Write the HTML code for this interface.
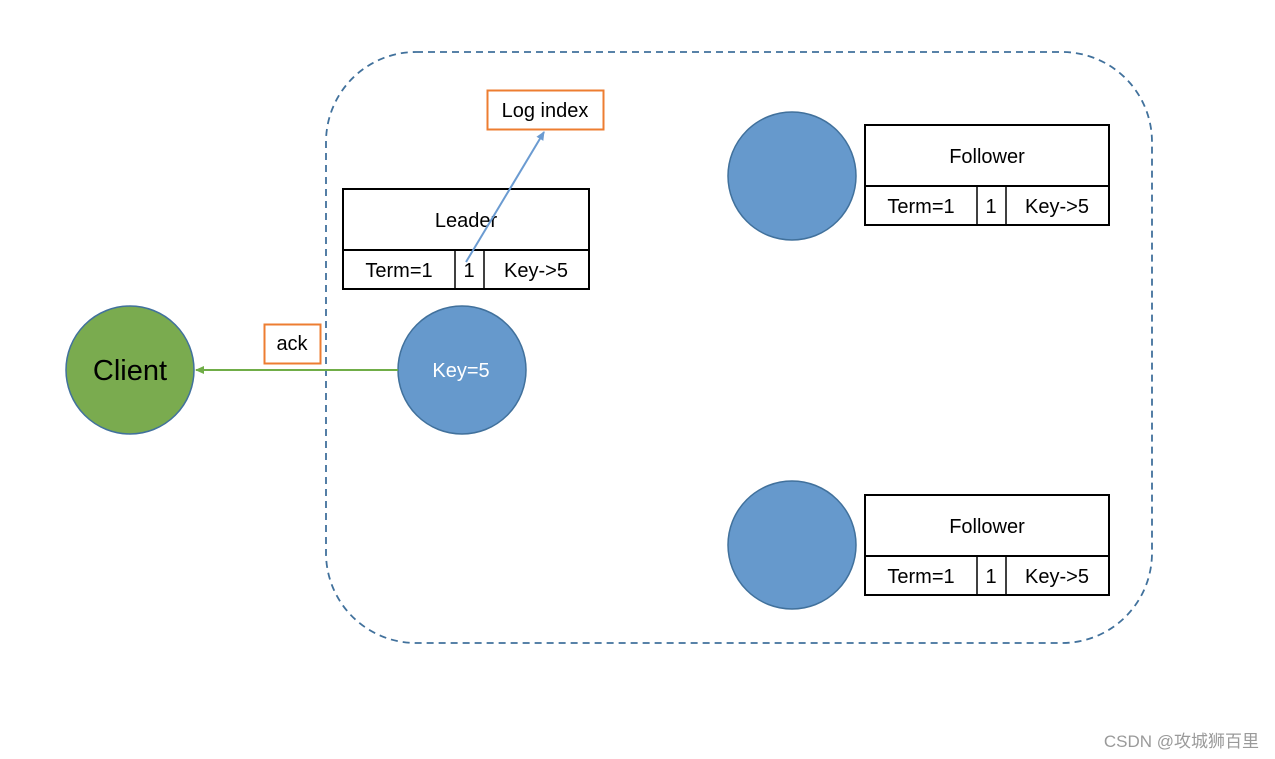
<!DOCTYPE html>
<html><head><meta charset="utf-8"><style>
html,body{margin:0;padding:0;background:#fff;}
svg{display:block;}
text{font-family:"Liberation Sans","Noto Sans CJK SC",sans-serif;}
</style></head><body>
<svg width="1275" height="759" viewBox="0 0 1275 759" xmlns="http://www.w3.org/2000/svg">
<defs>
<marker id="ab" markerWidth="10" markerHeight="10" refX="8" refY="5" orient="auto" markerUnits="userSpaceOnUse"><path d="M0,1 L9,5 L0,9 z" fill="#6b9bd1"/></marker>
<marker id="ag" markerWidth="10" markerHeight="10" refX="8" refY="5" orient="auto" markerUnits="userSpaceOnUse"><path d="M0,1 L9,5 L0,9 z" fill="#70ad47"/></marker>
</defs>
<rect x="326" y="52" width="826" height="591" rx="90" ry="90" fill="none" stroke="#41719c" stroke-width="1.8" stroke-dasharray="7,5"/>
<rect x="487.5" y="90.5" width="116" height="39" fill="#fff" stroke="#ed7d31" stroke-width="2"/>
<text x="545" y="117" font-size="20" text-anchor="middle" fill="#000">Log index</text>
<rect x="343" y="189" width="246" height="100" fill="#fff" stroke="#000" stroke-width="2"/>
<line x1="343" y1="250" x2="589" y2="250" stroke="#000" stroke-width="2"/>
<line x1="455" y1="250" x2="455" y2="289" stroke="#000" stroke-width="1.5"/>
<line x1="484" y1="250" x2="484" y2="289" stroke="#000" stroke-width="1.5"/>
<text x="466" y="227" font-size="20" text-anchor="middle">Leader</text>
<text x="399" y="277" font-size="20" text-anchor="middle">Term=1</text>
<text x="469" y="277" font-size="20" text-anchor="middle">1</text>
<text x="536" y="277" font-size="20" text-anchor="middle">Key-&gt;5</text>
<line x1="466" y1="262" x2="544" y2="132" stroke="#6b9bd1" stroke-width="2" marker-end="url(#ab)"/>
<circle cx="130" cy="370" r="64" fill="#7aab4f" stroke="#41719c" stroke-width="1.5"/>
<text x="130" y="380" font-size="29" text-anchor="middle" fill="#000">Client</text>
<circle cx="462" cy="370" r="64" fill="#6699cc" stroke="#41719c" stroke-width="1.5"/>
<text x="461" y="377" font-size="20" text-anchor="middle" fill="#fff">Key=5</text>
<line x1="398" y1="370" x2="196" y2="370" stroke="#70ad47" stroke-width="2" marker-end="url(#ag)"/>
<rect x="264.5" y="324.5" width="56" height="39" fill="#fff" stroke="#ed7d31" stroke-width="2"/>
<text x="292" y="350" font-size="20" text-anchor="middle">ack</text>
<circle cx="792" cy="176" r="64" fill="#6699cc" stroke="#41719c" stroke-width="1.5"/>
<circle cx="792" cy="545" r="64" fill="#6699cc" stroke="#41719c" stroke-width="1.5"/>
<g>
<rect x="865" y="125" width="244" height="100" fill="#fff" stroke="#000" stroke-width="2"/>
<line x1="865" y1="186" x2="1109" y2="186" stroke="#000" stroke-width="2"/>
<line x1="977" y1="186" x2="977" y2="225" stroke="#000" stroke-width="1.5"/>
<line x1="1006" y1="186" x2="1006" y2="225" stroke="#000" stroke-width="1.5"/>
<text x="987" y="163" font-size="20" text-anchor="middle">Follower</text>
<text x="921" y="213" font-size="20" text-anchor="middle">Term=1</text>
<text x="991" y="213" font-size="20" text-anchor="middle">1</text>
<text x="1057" y="213" font-size="20" text-anchor="middle">Key-&gt;5</text>
</g>
<g>
<rect x="865" y="495" width="244" height="100" fill="#fff" stroke="#000" stroke-width="2"/>
<line x1="865" y1="556" x2="1109" y2="556" stroke="#000" stroke-width="2"/>
<line x1="977" y1="556" x2="977" y2="595" stroke="#000" stroke-width="1.5"/>
<line x1="1006" y1="556" x2="1006" y2="595" stroke="#000" stroke-width="1.5"/>
<text x="987" y="533" font-size="20" text-anchor="middle">Follower</text>
<text x="921" y="583" font-size="20" text-anchor="middle">Term=1</text>
<text x="991" y="583" font-size="20" text-anchor="middle">1</text>
<text x="1057" y="583" font-size="20" text-anchor="middle">Key-&gt;5</text>
</g>
<text x="1259" y="747" font-size="17" text-anchor="end" fill="#9a9a9a">CSDN @攻城狮百里</text>
</svg>
</body></html>
